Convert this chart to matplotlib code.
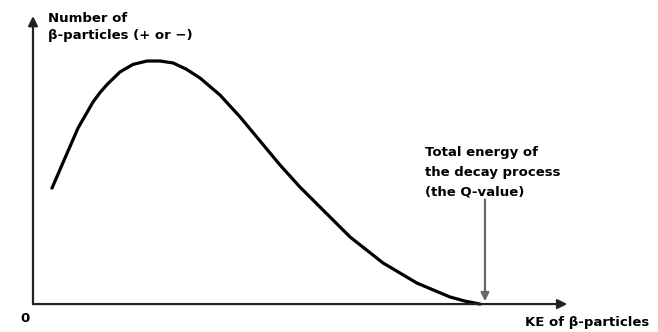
import matplotlib
matplotlib.use("Agg")
import matplotlib.pyplot as plt

# Beta spectrum (arbitrary units): kinetic energy vs number of particles
ke = [4.25, 7.16, 10.07, 13.42, 14.99, 16.55, 19.46, 22.37, 25.5, 28.41,
      31.32, 34.23, 37.36, 41.83, 46.31, 50.78, 55.26, 59.73, 64.21, 70.92,
      78.3, 85.91, 93.29, 96.64, 100.0]
counts = [47.7, 60.1, 72.4, 83.1, 87.0, 90.3, 95.5, 98.6, 100.0, 100.0,
          99.2, 96.7, 93.0, 86.0, 77.0, 67.1, 57.2, 48.1, 39.9, 27.6,
          16.9, 8.6, 2.9, 1.2, 0.0]
q_value = 100.0

y_label = ["Number of", "β-particles (+ or −)"]
x_label = "KE of β-particles"
q_label = ["Total energy of", "the decay process", "(the Q-value)"]

plt.rcParams['font.family'] = ['DejaVu Sans']

fig = plt.figure(figsize=(6.58, 3.32), dpi=100)
ax = fig.add_axes([0, 0, 1, 1])
ax.set_xlim(-7.38, 139.8)
ax.set_ylim(-11.5, 125.1)
ax.axis('off')

ax.plot(ke, counts, color='black', lw=2.3, solid_capstyle='round',
        solid_joinstyle='round')

# axes arrows
ax.annotate('', xy=(0, 118.5), xytext=(0, 0),
            arrowprops=dict(arrowstyle='-|>', color='#222222', lw=1.6,
                            mutation_scale=14, shrinkA=0, shrinkB=0))
ax.annotate('', xy=(119.5, 0), xytext=(0, 0),
            arrowprops=dict(arrowstyle='-|>', color='#222222', lw=1.6,
                            mutation_scale=14, shrinkA=0, shrinkB=0))

# Q-value arrow
ax.annotate('', xy=(q_value + 1.1, 1.2), xytext=(q_value + 1.1, 43),
            arrowprops=dict(arrowstyle='-|>', color='#666666', lw=1.6,
                            mutation_scale=12, shrinkA=0, shrinkB=0))

fs = 9.5
ax.text(3.4, 117.5, y_label[0], fontsize=fs, fontweight='bold', va='center', ha='left')
ax.text(3.4, 110.5, y_label[1], fontsize=fs, fontweight='bold', va='center', ha='left')

for i, line in enumerate(q_label):
    ax.text(87.7, 62.5 - i * 8.2, line, fontsize=fs, fontweight='bold', va='center', ha='left')

ax.text(110.0, -7.6, x_label, fontsize=fs, fontweight='bold', va='center', ha='left')
ax.text(-1.8, -6.0, "0", fontsize=fs, fontweight='bold', va='center', ha='center')

fig.savefig('out.png', dpi=100)
